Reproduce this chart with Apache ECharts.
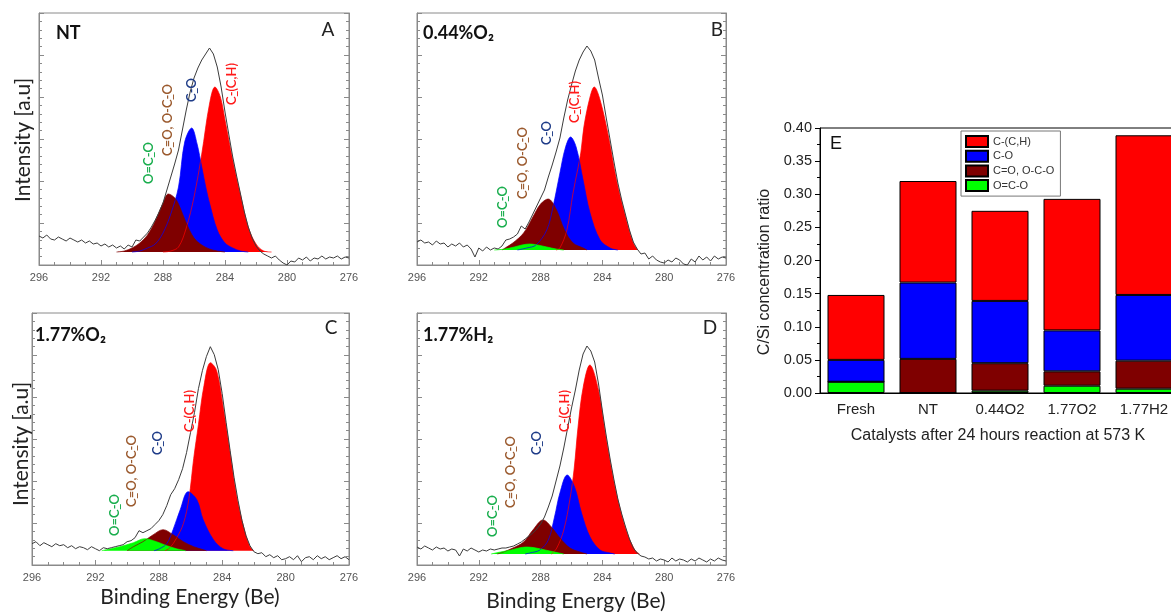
<!DOCTYPE html>
<html><head><meta charset="utf-8">
<script src="https://cdn.jsdelivr.net/npm/echarts@6.0.0/dist/echarts.min.js"></script>
<style>html,body{margin:0;padding:0;background:#fff}#c{width:1171px;height:612px}</style>
</head><body><div id="c"></div>
<script>
// ---------- XPS C1s spectra: [binding energy (eV), intensity above fit baseline (a.u.)] ----------
const rawA = [[296,16],[295.75,14],[295.5,17],[295.25,13],[295,12],[294.75,15],[294.5,13],[294.25,11],[294,14],[293.75,12],[293.5,10],[293.25,12],[293,9],[292.75,11],[292.5,8],[292.25,9],[292,6],[291.75,8],[291.5,5],[291.25,7],[291,4],[290.75,6],[290.5,3],[290.25,7],[290,5],[289.75,12],[289.5,11],[289.25,15],[289,19],[288.75,25],[288.5,32],[288.25,40],[288,49],[287.75,62],[287.5,75],[287.25,88],[287,102],[286.75,122],[286.5,142],[286.25,160],[286,174],[285.75,184],[285.5,192],[285.25,198],[285,204],[284.75,198],[284.5,185],[284.25,165],[284,140],[283.75,117],[283.5,95],[283.25,76],[283,58],[282.75,40],[282.5,25],[282.25,14],[282,6],[281.75,1],[281.5,-2],[281.25,-4],[281,-6],[280.75,-4],[280.5,-8],[280.25,-11],[280,-13],[279.75,-9],[279.5,-10],[279.25,-6],[279,-8],[278.75,-5],[278.5,-9],[278.25,-6],[278,-7],[277.75,-4],[277.5,-7],[277.25,-5],[277,-6],[276.75,-4],[276.5,-7],[276.25,-5],[276,-6]];
const redA = [[288,0],[287.5,1],[287,5],[286.5,24],[286,55],[285.5,98],[285,148],[284.65,165],[284.3,155],[284,132],[283.5,92],[283,57],[282.5,25],[282,8],[281.5,1],[281,0]];
const blueA = [[290,0],[289.5,1],[289,4],[288.5,8],[288,19],[287.5,38],[287,65],[286.6,110],[286.15,124],[285.8,108],[285.5,85],[285.2,62],[285,49],[284.5,22],[284,9],[283.5,4],[283,1],[282.5,0]];
const maroonA = [[291,0],[290.5,1],[290,4],[289.5,9],[289,17],[288.5,31],[288,49],[287.66,58],[287.3,55],[287,48],[286.5,29],[286,14],[285.5,7],[285,3],[284.5,1],[284,0]];
const greenA = [];

const rawB = [[296,8],[295.75,10],[295.5,7],[295.25,8],[295,5],[294.75,9],[294.5,6],[294.25,7],[294,3],[293.75,6],[293.5,4],[293.25,7],[293,3],[292.75,5],[292.5,1],[292.25,-7],[292,2],[291.75,-1],[291.5,3],[291.25,0],[291,2],[290.75,1],[290.5,4],[290.25,10],[290,11],[289.75,13],[289.5,16],[289.25,24],[289,21],[288.75,28],[288.5,36],[288.25,44],[288,52],[287.75,60],[287.5,73],[287.25,85],[287,98],[286.75,112],[286.5,132],[286.25,150],[286,165],[285.75,179],[285.5,190],[285.25,198],[285,204],[284.75,199],[284.5,190],[284.25,172],[284,155],[283.75,132],[283.5,110],[283.25,88],[283,67],[282.75,50],[282.5,35],[282.25,20],[282,8],[281.75,1],[281.5,-4],[281.25,-3],[281,-9],[280.75,-6],[280.5,-10],[280.25,-12],[280,-13],[279.75,-10],[279.5,-12],[279.25,-8],[279,-10],[278.75,-14],[278.5,-15],[278.25,-9],[278,-12],[277.75,-6],[277.5,-10],[277.25,-7],[277,-11],[276.75,-6],[276.5,-9],[276.25,-7],[276,-8]];
const redB = [[287,0],[286.75,2],[286.3,20],[285.9,57],[285.4,97],[285.2,123],[284.8,153],[284.53,163],[284.15,150],[283.6,113],[283.1,71],[282.55,36],[282,7],[281.7,0]];
const blueB = [[289.5,0],[288.9,2],[288.3,5],[287.6,20],[287.2,43],[286.75,77],[286.4,102],[286.06,113],[285.7,103],[285.25,70],[284.8,37],[284.15,10],[283.5,2],[283,0]];
const maroonB = [[290.5,0],[290.2,3],[289.8,7],[289.1,17],[288.5,33],[288,46],[287.51,51],[287,41],[286.45,20],[285.9,7],[285.25,2],[285,0]];
const greenB = [[291,0],[290.3,1],[289.7,3],[289.2,5],[288.7,6],[288.2,5],[287.6,3],[287,1],[286.5,0]];

const rawC = [[296,7],[295.75,9],[295.5,5],[295.25,8],[295,6],[294.75,4],[294.5,7],[294.25,5],[294,6],[293.75,3],[293.5,5],[293.25,2],[293,4],[292.75,3],[292.5,1],[292.25,4],[292,2],[291.75,0],[291.5,3],[291.25,2],[291,3],[290.75,4],[290.5,5],[290.25,6],[290,9],[289.75,10],[289.5,13],[289.25,20],[289,18],[288.75,20],[288.5,22],[288.25,26],[288,30],[287.75,36],[287.5,45],[287.25,56],[287,62],[286.75,71],[286.5,82],[286.25,98],[286,118],[285.75,138],[285.5,162],[285.25,180],[285,194],[284.75,204],[284.5,196],[284.25,181],[284,157],[283.75,128],[283.5,100],[283.25,73],[283,50],[282.75,30],[282.5,15],[282.25,5],[282,-1],[281.75,-3],[281.5,-2],[281.25,-6],[281,-4],[280.75,-7],[280.5,-5],[280.25,-9],[280,-8],[279.75,-6],[279.5,-9],[279.25,-5],[279,-11],[278.75,-7],[278.5,-6],[278.25,-9],[278,-5],[277.75,-8],[277.5,-6],[277.25,-9],[277,-7],[276.75,-5],[276.5,-8],[276.25,-6],[276,-9]];
const redC = [[287.6,0],[287.3,3],[286.9,12],[286.45,27],[286.1,52],[285.8,92],[285.5,126],[285.15,165],[284.74,188],[284.35,180],[283.95,145],[283.5,98],[283.1,56],[282.65,24],[282.25,4],[282,0]];
const blueC = [[288.3,0],[287.95,2],[287.5,7],[287.1,21],[286.65,41],[286.15,59],[285.6,51],[285.2,31],[284.55,11],[283.95,2],[283.3,0]];
const maroonC = [[290,0],[289.6,4],[289,9],[288.35,16],[287.73,21],[287.1,16],[286.45,9],[285.8,4],[285.2,1],[285,0]];
const greenC = [[291.6,0],[291.3,1],[290.45,4],[289.6,8],[288.9,12],[288.15,9],[287.5,5],[286.9,2],[286.3,0]];

const rawD = [[296,7],[295.75,5],[295.5,8],[295.25,6],[295,4],[294.75,7],[294.5,5],[294.25,6],[294,3],[293.75,5],[293.5,4],[293.25,-2],[293,5],[292.75,3],[292.5,6],[292.25,4],[292,2],[291.75,4],[291.5,3],[291.25,5],[291,4],[290.75,5],[290.5,6],[290.25,6],[290,7],[289.75,8],[289.5,10],[289.25,12],[289,15],[288.75,18],[288.5,21],[288.25,25],[288,30],[287.75,37],[287.5,47],[287.25,58],[287,73],[286.75,88],[286.5,106],[286.25,126],[286,146],[285.75,164],[285.5,184],[285.25,200],[285,208],[284.75,203],[284.5,192],[284.25,170],[284,143],[283.75,118],[283.5,95],[283.25,74],[283,55],[282.75,40],[282.5,27],[282.25,15],[282,6],[281.75,1],[281.5,-2],[281.25,-3],[281,-5],[280.75,-4],[280.5,-7],[280.25,-5],[280,-6],[279.75,-8],[279.5,-4],[279.25,-7],[279,-5],[278.75,-6],[278.5,-8],[278.25,-5],[278,-7],[277.75,-4],[277.5,-6],[277.25,-8],[277,-5],[276.75,-7],[276.5,-4],[276.25,-6],[276,-7]];
const redD = [[287.3,0],[286.95,6],[286.5,24],[286.1,55],[285.83,85],[285.57,128],[285.24,167],[284.81,189],[284.27,165],[283.84,124],[283.41,85],[282.98,53],[282.44,23],[281.9,4],[281.6,0]];
const blueD = [[289,0],[288.7,1],[288.05,4],[287.5,14],[287.1,37],[286.75,61],[286.28,79],[285.8,67],[285.35,41],[284.8,17],[284.15,4],[283.5,1],[283.2,0]];
const maroonD = [[290.8,0],[290.4,2],[289.8,6],[289.1,12],[288.5,24],[287.84,34],[287.3,27],[286.75,16],[286.1,6],[285.45,2],[285,0]];
const greenD = [[291.2,0],[290.6,2],[289.9,4],[289.4,6],[288.9,7],[288.3,6],[287.7,4],[287.1,2],[286.5,0]];

// ---------- Panel E: C/Si concentration ratio (stacked) ----------
const catalysts = ['Fresh', 'NT', '0.44O2', '1.77O2', '1.77H2'];
const ratioOCO   = [0.017, 0.0, 0.0035, 0.011, 0.0065];      // O=C-O
const ratioCO2   = [0.0, 0.0515, 0.0415, 0.0217, 0.0423];    // C=O, O-C-O
const ratioCO    = [0.033, 0.1152, 0.094, 0.0618, 0.0992];   // C-O
const ratioCCH   = [0.098, 0.1533, 0.136, 0.1985, 0.241];    // C-(C,H)
const componentNames = ['C-(C,H)', 'C-O', 'C=O, O-C-O', 'O=C-O'];
const energyTicks = [296, 292, 288, 284, 280, 276];

// ---------- layout / style ----------
const compColors = ['#ff0000', '#0000ff', '#7f0000', '#00ff00'];
const FRAME = '#8a8a8a';
const panels = [
  { raw: rawA, comps: [redA, blueA, maroonA, greenA], grid: {left: 39, top: 13, width: 310, height: 252}, yMin: -13, yMax: 239 },
  { raw: rawB, comps: [redB, blueB, maroonB, greenB], grid: {left: 417, top: 13, width: 309, height: 252}, yMin: -15, yMax: 237 },
  { raw: rawC, comps: [redC, blueC, maroonC, greenC], grid: {left: 32, top: 313, width: 317, height: 252}, yMin: -14.3, yMax: 237.7 },
  { raw: rawD, comps: [redD, blueD, maroonD, greenD], grid: {left: 417, top: 313, width: 309, height: 252}, yMin: -11, yMax: 241 }
];

const grids = [], xAxes = [], yAxes = [], series = [];
panels.forEach((p, i) => {
  grids.push(Object.assign({ show: true, borderColor: FRAME, borderWidth: 1, backgroundColor: 'transparent', containLabel: false, outerBoundsMode: 'none' }, p.grid));
  xAxes.push({
    type: 'value', gridIndex: i, min: energyTicks[energyTicks.length - 1], max: energyTicks[0], interval: 4, inverse: true,
    axisLine: { onZero: false, lineStyle: { color: FRAME, width: 1 } },
    axisTick: { inside: true, length: 5, lineStyle: { color: FRAME } },
    minorTick: { show: true, splitNumber: 4, length: 3, lineStyle: { color: FRAME } },
    axisLabel: { fontSize: 11, color: '#555', margin: 7, fontFamily: 'Liberation Sans' },
    splitLine: { show: false }, minorSplitLine: { show: false }
  });
  yAxes.push({ type: 'value', gridIndex: i, min: p.yMin, max: p.yMax, show: false, splitLine: { show: false } });
  ['left', 'right'].forEach(pos => yAxes.push({
    type: 'value', gridIndex: i, min: 0, max: 6, interval: 1, position: pos,
    axisLine: { show: true, onZero: false, lineStyle: { color: FRAME } },
    axisTick: { show: true, inside: true, length: 5, lineStyle: { color: FRAME } },
    minorTick: { show: true, splitNumber: 5, length: 3, lineStyle: { color: FRAME } },
    axisLabel: { show: false }, splitLine: { show: false }, minorSplitLine: { show: false }
  }));
  p.comps.forEach((d, k) => {
    if (!d.length) return;
    series.push({ type: 'line', xAxisIndex: i, yAxisIndex: 3 * i, data: d, smooth: 0.35, symbol: 'none', silent: true,
      lineStyle: { width: 0, opacity: 0 }, areaStyle: { color: compColors[k], opacity: 1, origin: 'auto' }, z: 2 + k });
  });
  p.comps.forEach((d, k) => {
    if (!d.length) return;
    series.push({ type: 'line', xAxisIndex: i, yAxisIndex: 3 * i, data: d, smooth: 0.35, symbol: 'none', silent: true,
      lineStyle: { width: 0.7, color: compColors[k] }, z: 7 });
  });
  series.push({ type: 'line', xAxisIndex: i, yAxisIndex: 3 * i, data: p.raw, symbol: 'none', silent: true,
    lineStyle: { width: 1, color: '#3c3c3c' }, z: 9 });
});

// Panel E
grids.push({ show: true, borderColor: '#000', borderWidth: 1, left: 820, top: 128, width: 360, height: 265, containLabel: false, outerBoundsMode: 'none' });
xAxes.push({
  type: 'category', gridIndex: 4, data: catalysts,
  axisLine: { onZero: false, lineStyle: { color: '#000', width: 1 } },
  axisTick: { alignWithLabel: true, length: 5, lineStyle: { color: '#000' } },
  axisLabel: { fontSize: 15, color: '#222', margin: 9, fontFamily: 'Liberation Sans' }
});
yAxes.push({
  type: 'value', gridIndex: 4, min: 0, max: 0.4, interval: 0.05,
  axisLine: { show: true, onZero: false, lineStyle: { color: '#000', width: 1 } },
  axisTick: { show: true, length: 5, lineStyle: { color: '#000' } },
  minorTick: { show: true, splitNumber: 2, length: 3, lineStyle: { color: '#000' } },
  axisLabel: { formatter: v => v.toFixed(2), fontSize: 14.5, color: '#222', margin: 8, fontFamily: 'Liberation Sans' },
  splitLine: { show: false }, minorSplitLine: { show: false }
});
const barStack = [
  ['O=C-O', ratioOCO, compColors[3]],
  ['C=O, O-C-O', ratioCO2, compColors[2]],
  ['C-O', ratioCO, compColors[1]],
  ['C-(C,H)', ratioCCH, compColors[0]]
];
barStack.forEach(([name, vals, color]) => series.push({
  type: 'bar', name, stack: 'E', xAxisIndex: 4, yAxisIndex: 12, data: vals, barWidth: 57,
  itemStyle: { color, borderColor: '#000', borderWidth: 1 }, silent: true
}));

// ---------- text annotations ----------
const LBL = { green: '#1aae4e', brown: '#9b5a2e', navy: '#1f3c88', red: '#ff1a1a' };
const U = 'C\u0332';
const compLabels = [
  // panel A
  [149, 163, 'O=' + U + '-O', LBL.green], [168, 120, U + '=O, O-' + U + '-O', LBL.brown], [192, 90, U + '-O', LBL.navy], [232, 84, U + '-(C,H)', LBL.red],
  // panel B
  [503, 207, 'O=' + U + '-O', LBL.green], [523, 163, U + '=O, O-' + U + '-O', LBL.brown], [547, 133, U + '-O', LBL.navy], [575, 102, U + '-(C,H)', LBL.red],
  // panel C
  [115, 515, 'O=' + U + '-O', LBL.green], [132, 471, U + '=O, O-' + U + '-O', LBL.brown], [158, 443, U + '-O', LBL.navy], [190, 411, U + '-(C,H)', LBL.red],
  // panel D
  [493, 516, 'O=' + U + '-O', LBL.green], [511, 472, U + '=O, O-' + U + '-O', LBL.brown], [537, 443, U + '-O', LBL.navy], [565, 411, U + '-(C,H)', LBL.red]
];
const graphics = [];
compLabels.forEach(([x, y, t, c]) => graphics.push({ type: 'text', x, y, rotation: Math.PI / 2, silent: true, z: 100,
  style: { text: t, fill: c, font: '600 13px Lato, "Open Sans", sans-serif', align: 'center', verticalAlign: 'middle' } }));
const titles = [[56, 33, 'NT'], [423, 33, '0.44%O\u2082'], [35, 335, '1.77%O\u2082'], [423, 335, '1.77%H\u2082']];
titles.forEach(([x, y, t]) => graphics.push({ type: 'text', x, y, silent: true, z: 100,
  style: { text: t, fill: '#111', font: 'bold 18px Lato, "Open Sans", sans-serif', align: 'left', verticalAlign: 'middle' } }));
const letters = [[328, 30, 'A'], [717, 30, 'B'], [331, 328, 'C'], [710, 328, 'D']];
letters.forEach(([x, y, t]) => graphics.push({ type: 'text', x, y, silent: true, z: 100,
  style: { text: t, fill: '#222', font: '19px Lato, "Open Sans", sans-serif', align: 'center', verticalAlign: 'middle' } }));
[[23, 140], [21, 444]].forEach(([x, y]) => graphics.push({ type: 'text', x, y, rotation: Math.PI / 2, silent: true,
  style: { text: 'Intensity [a.u]', fill: '#222', font: '21px Lato, "Open Sans", sans-serif', align: 'center', verticalAlign: 'middle' } }));
[[190, 597], [576, 601]].forEach(([x, y]) => graphics.push({ type: 'text', x, y, silent: true,
  style: { text: 'Binding Energy (Be)', fill: '#222', font: '21px Lato, "Open Sans", sans-serif', align: 'center', verticalAlign: 'middle' } }));
graphics.push({ type: 'text', x: 836, y: 144, silent: true, z: 100,
  style: { text: 'E', fill: '#111', font: '18px "Liberation Sans", Arial, sans-serif', align: 'center', verticalAlign: 'middle' } });
graphics.push({ type: 'text', x: 765, y: 272, rotation: Math.PI / 2, silent: true,
  style: { text: 'C/Si concentration ratio', fill: '#222', font: '16px "Liberation Sans", Arial, sans-serif', align: 'center', verticalAlign: 'middle' } });
graphics.push({ type: 'text', x: 998, y: 436, silent: true,
  style: { text: 'Catalysts after 24 hours reaction at 573 K', fill: '#222', font: '16px "Liberation Sans", Arial, sans-serif', align: 'center', verticalAlign: 'middle' } });

const chart = echarts.init(document.getElementById('c'), null, { renderer: 'canvas' });
chart.setOption({
  animation: false,
  backgroundColor: '#fff',
  grid: grids, xAxis: xAxes, yAxis: yAxes, series,
  legend: {
    data: componentNames, orient: 'vertical', left: 961, top: 131,
    itemWidth: 22, itemHeight: 11, itemGap: 1.7, padding: [4, 6, 4, 4],
    backgroundColor: '#fff', borderColor: '#777', borderWidth: 1, borderRadius: 0,
    textStyle: { fontSize: 11, lineHeight: 11, color: '#333', fontFamily: 'Liberation Sans' },
    icon: 'rect', selectedMode: false
  },
  graphic: graphics
});
</script></body></html>
